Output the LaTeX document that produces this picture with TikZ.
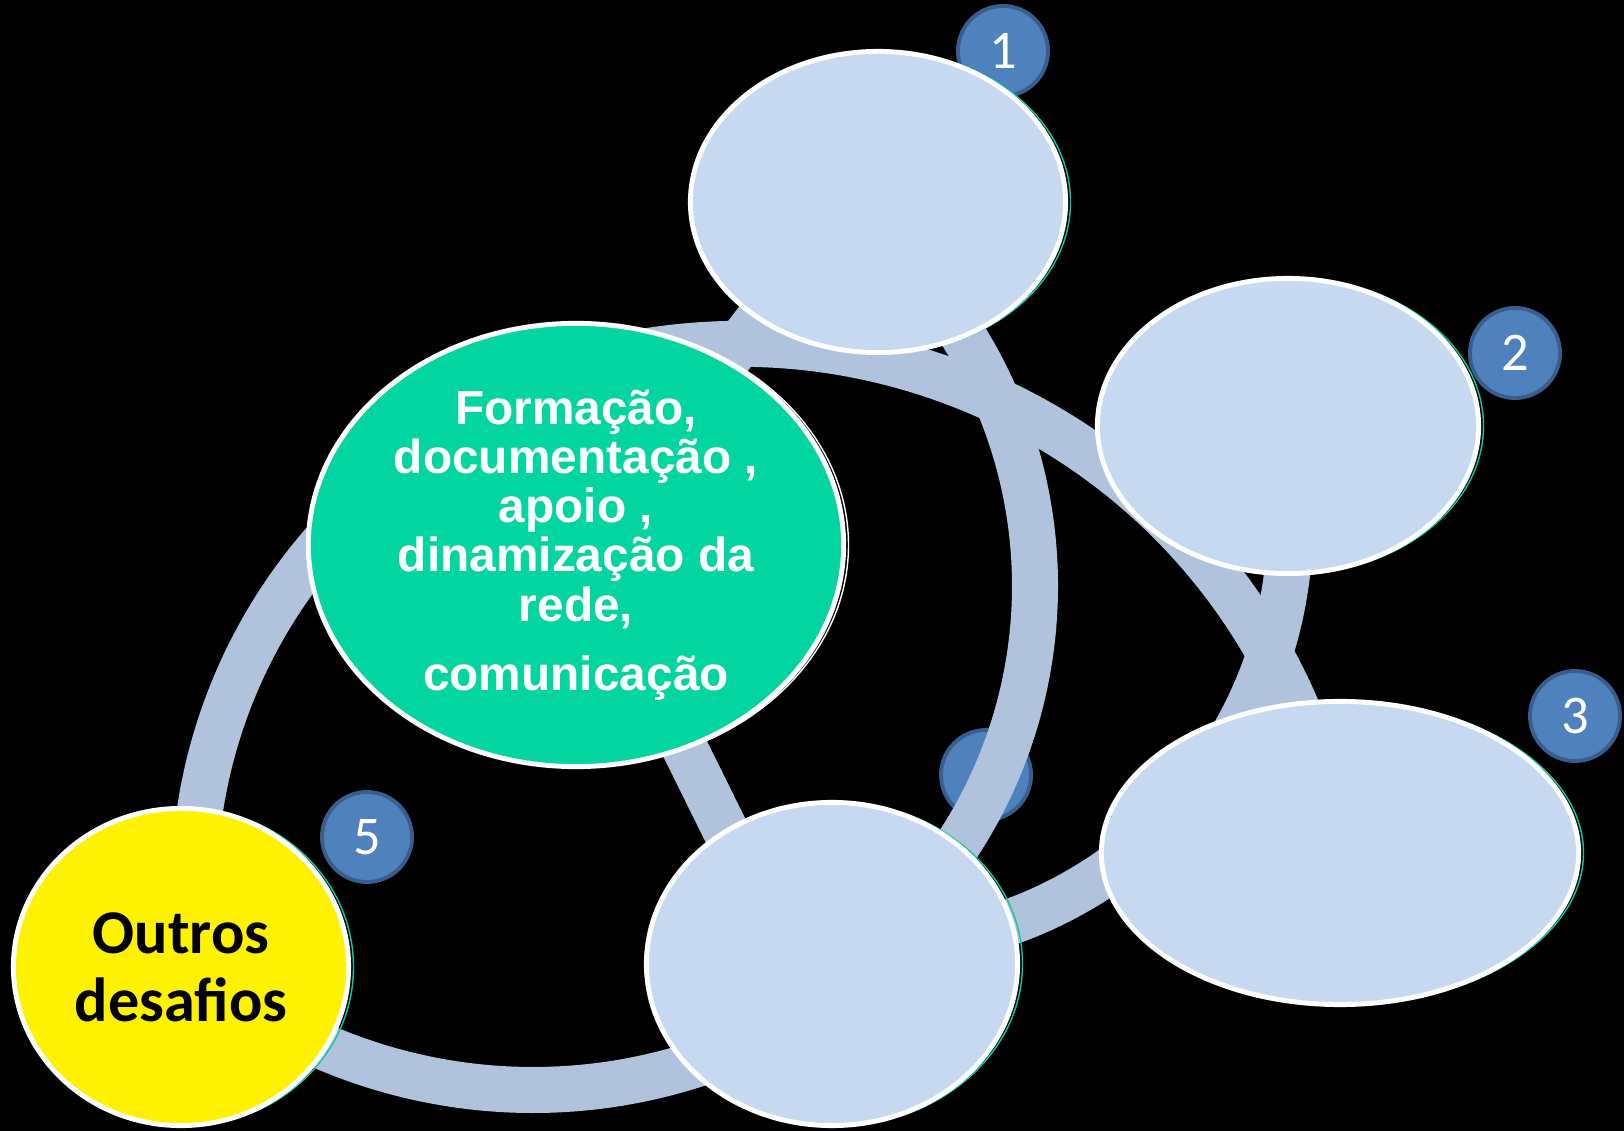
\documentclass[tikz,border=0pt]{standalone}
\usepackage{fontspec}
\newfontfamily\arialfont{Liberation Sans}
\newfontfamily\calibrifont{Carlito}
\usetikzlibrary{shapes.geometric}
\definecolor{bandblue}{HTML}{B1C2DD}
\definecolor{bubbleblue}{HTML}{C6D9F0}
\definecolor{hubgreen}{HTML}{03D5A0}
\definecolor{numblue}{HTML}{4F81BD}
\definecolor{numedge}{HTML}{3A5E8C}
\definecolor{rimteal}{HTML}{10C8A0}
\pgfdeclarelayer{back}
\pgfdeclarelayer{mid}
\pgfsetlayers{back,mid,main}
\tikzset{
  bubble/.style={ellipse,draw=white,line width=1.4pt,fill=bubbleblue,inner sep=0pt},
  band/.style={draw=bandblue,line width=0.46cm},
  rim/.style={draw=rimteal,line width=0.4pt},
  num/.style={circle,draw=numedge,line width=1.1pt,fill=numblue,minimum size=0.9cm,
    inner sep=0pt,text=white,font=\calibrifont\fontsize{15.5}{16}\selectfont}
}
\begin{document}
\begin{tikzpicture}[x=0.01cm,y=-0.01cm]
\useasboundingbox (0,0) rectangle (1624,1131);
\begin{pgfonlayer}{back}
\fill[black] (0,0) rectangle (1624,1131);
\node(n1) at (1003,51)[num]  {1};
\node(n2) at (1515,353)[num] {2};
\node(n3) at (1575,716)[num] {3};
\node(n4) at (986,775)[num]  {4};
\node(n5) at (367,837)[num]  {5};
\end{pgfonlayer}

\node(e1) at (878,202)[bubble,minimum width=3.75cm,minimum height=3.01cm] {};
\node(e2) at (1288,426)[bubble,minimum width=3.81cm,minimum height=2.95cm] {};
\node(e3) at (1340,853)[bubble,minimum width=4.77cm,minimum height=3.03cm] {};
\node(e4) at (832,964)[bubble,minimum width=3.71cm,minimum height=3.23cm] {};
\node(hub) at (576,545)[bubble,fill=hubgreen,minimum width=5.35cm,minimum height=4.43cm,
  align=center,text=white,font=\arialfont\bfseries\fontsize{13.6}{14}\selectfont]
  {Formação,\\documentação ,\\apoio ,\\dinamização da\\rede,\\[0.2cm]comunicação};
\node(other) at (181,967)[bubble,fill=yellow,minimum width=3.35cm,minimum height=3.17cm,
  align=center,font=\calibrifont\bfseries\fontsize{17.7}{19.4}\selectfont]
  {Outros\\desafios};

% arc centres
\coordinate(cp) at (741,950);
\coordinate(cr) at (563,586);
\coordinate(cq) at (867,524);
\coordinate(cl) at (720,889);
\coordinate(cb) at (533,560);
\coordinate(s1) at (700,395);
\coordinate(s2) at (785,285);
\coordinate(g1) at (656,690);
\coordinate(g2) at (750,880);

\begin{pgfonlayer}{mid}
\draw[band] (cp) ++(-110:606) arc[start angle=-110,end angle=-20,radius=606];
\draw[band] (cr) ++(-35:472) arc[start angle=-35,end angle=38,radius=472];
\draw[band] (cq) ++(0:423) arc[start angle=0,end angle=78,radius=423];
\draw[band] (cl) ++(185:526) arc[start angle=185,end angle=225,radius=526];
\draw[band] (cb) ++(62:530) arc[start angle=62,end angle=120,radius=530];
\draw[band] (s1) -- (s2);
\draw[band] (g1) -- (g2);
\foreach \n/\w/\h in {e1/375/301,e2/381/295,e3/477/303,e4/371/323,other/335/317}
  \draw[rim] ([xshift=0.05cm]\n.center) ellipse [x radius=\w/2,y radius=\h/2];
\draw[rim,draw=white] ([xshift=0.05cm]hub.center) ellipse [x radius=535/2,y radius=443/2];
\end{pgfonlayer}
\end{tikzpicture}
\end{document}
